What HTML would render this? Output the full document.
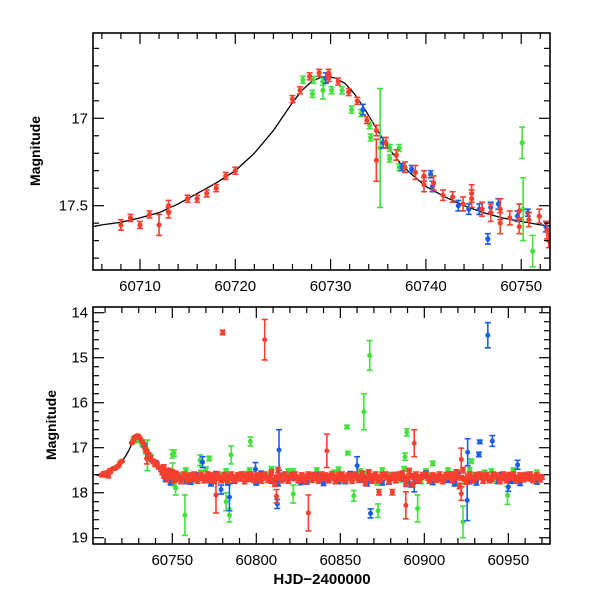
<!DOCTYPE html>
<html><head><meta charset="utf-8"><style>
html,body{margin:0;padding:0;background:#fff;width:600px;height:600px;overflow:hidden}
svg text{font-family:"Liberation Sans",sans-serif;fill:#000}
</style></head><body>
<svg id="chart" width="600" height="600" viewBox="0 0 600 600" xmlns="http://www.w3.org/2000/svg">
<rect width="600" height="600" fill="#fff"/>
<g id="top"></g>
<g id="bot"></g>
<text x="0" y="0" transform="translate(40,151) rotate(-90)" text-anchor="middle" font-size="14" font-weight="bold">Magnitude</text>
<text x="0" y="0" transform="translate(56,425) rotate(-90)" text-anchor="middle" font-size="14" font-weight="bold">Magnitude</text>
<text x="322" y="584" text-anchor="middle" font-size="15" font-family="Liberation Mono" font-weight="bold">HJD−2400000</text>
</svg>
<script>
// ---- data ----
const modelDays=[60705,60706,60708,60710,60712,60714,60716,60718,60720,60722,60724,60725,60726,60727,60728,60729,60729.7,60730.5,60731.5,60732.5,60733.5,60734.5,60735.5,60736.5,60737.5,60738.5,60740,60742,60744,60746,60748,60750,60752,60754,60760,60780,60970];
const modelMags=[17.62,17.61,17.595,17.57,17.54,17.49,17.43,17.37,17.3,17.2,17.07,16.99,16.91,16.84,16.79,16.765,16.76,16.77,16.8,16.86,16.94,17.03,17.12,17.2,17.27,17.32,17.39,17.45,17.5,17.54,17.57,17.59,17.61,17.62,17.64,17.66,17.66];

const redDays=[60708,60709,60710,60711,60712,60713,60713,60715,60716,60717,60718,60719,60720,60726,60726.8,60727.8,60728.8,60729.8,60729.8,60730.8,60731.9,60732.8,60733.8,60734.8,60734.8,60735.8,60736.9,60737.8,60738.9,60739.8,60739.8,60740.8,60741.8,60742.8,60743.9,60744.8,60744.8,60745.9,60746.8,60747.8,60747.8,60748.8,60749.8,60749.8,60750.8,60751.9,60752.7,60752.9];
const redMags=[17.61,17.57,17.61,17.55,17.61,17.5,17.54,17.46,17.46,17.43,17.4,17.33,17.3,16.89,16.84,16.76,16.74,16.74,16.77,16.79,16.85,16.9,17.01,17.07,17.24,17.14,17.21,17.28,17.31,17.33,17.38,17.37,17.44,17.45,17.49,17.46,17.43,17.52,17.54,17.52,17.6,17.57,17.53,17.62,17.58,17.56,17.64,17.7];
const redErrs=[0.03,0.02,0.02,0.02,0.06,0.03,0.03,0.02,0.02,0.02,0.02,0.02,0.02,0.02,0.02,0.02,0.02,0.02,0.02,0.02,0.02,0.02,0.02,0.03,0.12,0.03,0.03,0.03,0.04,0.03,0.04,0.04,0.03,0.03,0.04,0.05,0.05,0.04,0.05,0.06,0.06,0.04,0.04,0.04,0.04,0.04,0.05,0.04];

const greenDays=[60727.1,60728.2,60728.1,60729.2,60729.2,60730.1,60731.2,60732.2,60733.2,60734.1,60734.2,60735.2,60736.2,60736.2,60737.2,60737.2,60750.1,60750.2,60751.2];
const greenMags=[16.78,16.78,16.86,16.79,16.84,16.84,16.84,16.95,16.97,17.04,17.11,17.17,17.17,17.23,17.17,17.28,17.14,17.52,17.76];
const greenErrs=[0.02,0.02,0.02,0.02,0.05,0.02,0.02,0.02,0.02,0.02,0.02,0.34,0.02,0.02,0.02,0.02,0.09,0.18,0.09];

const blueDays=[60729.5,60733.4,60735.5,60737.5,60738.5,60740.5,60740.7,60743.4,60744.5,60745.6,60746.5,60746.8,60747.6,60749.6,60750.7,60752.6];
const blueMags=[16.77,16.95,17.14,17.28,17.29,17.32,17.39,17.5,17.52,17.52,17.69,17.51,17.49,17.56,17.54,17.62];
const blueErrs=[0.03,0.03,0.03,0.02,0.02,0.02,0.03,0.03,0.03,0.03,0.03,0.03,0.03,0.03,0.02,0.03];

// bottom-panel additional data
const bandRedDays=[60744,60746,60748,60750,60752,60754,60756,60758,60760,60762,60764,60766,60768,60770,60772,60774,60776,60778,60780,60782,60784,60786,60788,60790,60792,60794,60796,60798,60800,60802,60804,60806,60808,60810,60812,60814,60816,60818,60820,60822,60824,60826,60828,60830,60832,60834,60836,60838,60840,60842,60844,60846,60848,60850,60852,60854,60856,60858,60860,60862,60864,60866,60868,60870,60872,60874,60876,60878,60880,60882,60884,60886,60888,60890,60892,60894,60896,60898,60900,60902,60904,60906,60908,60910,60912,60914,60916,60918,60920,60922,60924,60926,60928,60930,60932,60934,60936,60938,60940,60942,60944,60946,60948,60950,60952,60954,60956,60958,60960,60962,60964,60966,60968,60970];
const bandRedMags=[17.55,17.6,17.62,17.64,17.66,17.7,17.66,17.63,17.67,17.7,17.65,17.68,17.64,17.66,17.72,17.65,17.62,17.68,17.66,17.7,17.64,17.67,17.65,17.69,17.63,17.66,17.7,17.64,17.68,17.66,17.62,17.67,17.65,17.71,17.66,17.64,17.69,17.65,17.67,17.63,17.68,17.66,17.7,17.64,17.66,17.62,17.68,17.65,17.69,17.66,17.63,17.67,17.65,17.7,17.64,17.68,17.66,17.62,17.67,17.65,17.69,17.66,17.63,17.68,17.65,17.7,17.64,17.66,17.68,17.65,17.62,17.67,17.66,17.69,17.64,17.66,17.7,17.65,17.63,17.67,17.66,17.68,17.64,17.7,17.65,17.66,17.62,17.68,17.65,17.67,17.69,17.64,17.66,17.68,17.65,17.63,17.67,17.66,17.7,17.64,17.66,17.68,17.65,17.62,17.67,17.66,17.69,17.64,17.66,17.68,17.65,17.67,17.66,17.65];
const bandRed2Days=[60745,60747,60749,60751,60753,60755,60757,60759,60761,60763,60765,60767,60769,60771,60773,60775,60777,60779,60781,60783,60785,60787,60789,60791,60793,60795,60797,60799,60801,60803,60805,60807,60809,60811,60813,60815,60817,60819,60821,60823,60825,60827,60829,60831,60833,60835,60837,60839,60841,60843,60845,60847,60849,60851,60853,60855,60857,60859,60861,60863,60865,60867,60869,60871,60873,60875,60877,60879,60881,60883,60885,60887,60889,60891,60893,60895,60897,60899,60901,60903,60905,60907,60909,60911,60913,60915,60917,60919,60921,60923,60925,60927,60929,60931,60933,60935,60937,60939,60941,60943,60945,60947,60949,60951,60953,60955,60957,60959,60961,60963,60965,60967,60969];
const bandRed2Mags=[17.62,17.7,17.6,17.72,17.61,17.74,17.6,17.72,17.62,17.6,17.73,17.61,17.72,17.6,17.62,17.74,17.6,17.72,17.61,17.73,17.6,17.71,17.62,17.6,17.74,17.61,17.6,17.72,17.62,17.73,17.6,17.71,17.55,17.8,17.5,17.72,17.6,17.73,17.61,17.6,17.72,17.62,17.74,17.6,17.71,17.61,17.73,17.6,17.62,17.72,17.6,17.74,17.61,17.6,17.72,17.62,17.73,17.6,17.71,17.58,17.78,17.55,17.73,17.6,17.72,17.61,17.6,17.74,17.62,17.72,17.6,17.58,17.8,17.52,17.82,17.6,17.72,17.61,17.6,17.73,17.62,17.71,17.6,17.74,17.61,17.6,17.72,17.55,17.85,17.5,17.75,17.6,17.72,17.62,17.6,17.73,17.61,17.72,17.6,17.62,17.74,17.6,17.72,17.61,17.6,17.73,17.62,17.7,17.61,17.6,17.72,17.62,17.7];
const bandBlueDays=[60746,60752,60758,60764,60770,60776,60783,60790,60797,60803,60809,60816,60823,60830,60836,60843,60849,60856,60862,60869,60875,60882,60888,60895,60901,60908,60914,60920,60927,60933,60939,60946,60952,60958,60964,60969,60749,60761,60773,60787,60800,60813,60827,60840,60853,60866,60879,60892,60905,60918,60931,60944,60957,60967];
const bandBlueMags=[17.7,17.62,17.75,17.6,17.72,17.58,17.78,17.63,17.7,17.57,17.74,17.62,17.68,17.76,17.6,17.7,17.75,17.58,17.72,17.64,17.78,17.6,17.7,17.74,17.57,17.68,17.72,17.6,17.75,17.63,17.7,17.6,17.74,17.62,17.7,17.66,17.78,17.76,17.8,17.74,17.78,17.8,17.76,17.79,17.75,17.8,17.76,17.82,17.77,17.8,17.78,17.75,17.79,17.76];
const bandGreenDays=[60749,60755,60761,60767,60773,60779,60786,60793,60800,60806,60813,60819,60826,60833,60839,60846,60852,60859,60865,60872,60878,60885,60891,60898,60904,60911,60917,60924,60930,60936,60943,60949,60955,60961,60967,60758,60770,60782,60796,60809,60822,60836,60849,60862,60875,60888,60901,60914,60927,60940,60953];
const bandGreenMags=[17.75,17.6,17.72,17.55,17.78,17.62,17.72,17.58,17.76,17.6,17.7,17.52,17.78,17.6,17.74,17.55,17.72,17.62,17.58,17.78,17.6,17.72,17.55,17.75,17.62,17.7,17.58,17.76,17.6,17.55,17.74,17.62,17.7,17.6,17.55,17.5,17.48,17.52,17.5,17.47,17.52,17.5,17.48,17.52,17.5,17.47,17.52,17.5,17.49,17.52,17.5];

const outRedDays=[60780,60805,60842,60831,60776,60812,60894,60889,60873,60881,60922,60922];
const outRedMags=[14.44,14.6,17.07,18.45,18.05,18.08,16.9,18.28,17.99,17.99,17.26,18.02];
const outRedErrs=[0.05,0.45,0.37,0.4,0.4,0.15,0.3,0.3,0.06,0.06,0.25,0.15];
const outGreenDays=[60867.5,60864,60854,60889.6,60796.5,60751,60757.5,60752,60772,60766.5,60785,60782,60784,60822,60872.5,60858,60896,60923,60949.5,60888.5,60905,60928,60854.5];
const outGreenMags=[14.95,16.2,16.54,16.66,16.86,17.12,18.5,17.9,17.24,17.28,17.16,18.2,18.5,18.03,18.4,18.07,18.35,18.65,18.06,17.2,17.35,17.3,17.12];
const outGreenErrs=[0.33,0.4,0.04,0.08,0.1,0.07,0.45,0.15,0.05,0.12,0.2,0.2,0.15,0.2,0.15,0.12,0.3,0.35,0.2,0.08,0.05,0.05,0.04];
const outBlueDays=[60937.8,60940.5,60813.5,60933,60932.5,60925.5,60868,60860,60784,60812.5,60768,60779,60799.5,60950,60955.5,60894,60925.8];
const outBlueMags=[14.5,16.85,17.05,16.87,17.15,18.17,18.46,17.4,18.1,18.25,17.32,17.93,17.48,17.87,17.38,17.78,17.1];
const outBlueErrs=[0.28,0.12,0.45,0.04,0.05,0.45,0.1,0.2,0.3,0.1,0.12,0.1,0.15,0.1,0.1,0.2,0.3];

const topXTicks=[60710,60720,60730,60740,60750];
const topYTicks=[17,17.5];
const botXTicks=[60750,60800,60850,60900,60950];
const botYTicks=[14,15,16,17,18,19];

const RED='#f5402f',GREEN='#44e03c',BLUE='#1a5de8';
const NS='http://www.w3.org/2000/svg';
function mk(tag,attrs,parent){const e=document.createElementNS(NS,tag);for(const k in attrs)e.setAttribute(k,attrs[k]);parent.appendChild(e);return e;}

function makeAxes(box,xd,yd){
  return {x:d=>box.l+(d-xd[0])/(xd[1]-xd[0])*(box.r-box.l),
          y:m=>box.t+(m-yd[0])/(yd[1]-yd[0])*(box.b-box.t)};
}

function drawModel(g,ax,box){
  const cp=mk('clipPath',{id:'clip'+g.id},g);
  mk('rect',{x:box.l,y:box.t,width:box.r-box.l,height:box.b-box.t},cp);
  let d='';
  for(let i=0;i<modelDays.length;i++){d+=(i?'L':'M')+ax.x(modelDays[i]).toFixed(2)+','+ax.y(modelMags[i]).toFixed(2);}
  const p=mk('path',{d:d,fill:'none',stroke:'#000','stroke-width':1.3,'stroke-linejoin':'round','clip-path':'url(#clip'+g.id+')'},g);
  
  
}

function drawSeries(g,ax,box,days,mags,errs,color,name,r,defErr){
  const sg=mk('g',{'clip-path':'url(#clip'+g.id+')'},g);
  
  
  for(let i=0;i<days.length;i++){
    const x=ax.x(days[i]),y=ax.y(mags[i]);
    const e=errs?errs[i]:(defErr||0.02);
    const y1=ax.y(mags[i]-e),y2=ax.y(mags[i]+e);
    const pt=mk('g',{},sg);
    
    
    mk('line',{x1:x,x2:x,y1:y1,y2:y2,stroke:color,'stroke-width':1.6},pt);
    mk('line',{x1:x-3,x2:x+3,y1:y1,y2:y1,stroke:color,'stroke-width':1.6},pt);
    mk('line',{x1:x-3,x2:x+3,y1:y2,y2:y2,stroke:color,'stroke-width':1.6},pt);
    mk('circle',{cx:x,cy:y,r:r,fill:color},pt);
  }
}

function drawFrame(g,ax,box,xd,yd,xMaj,xMin,yMaj,yMin,xticks,yticks,fmtY){
  mk('rect',{x:box.l,y:box.t,width:box.r-box.l,height:box.b-box.t,fill:'none',stroke:'#000','stroke-width':1.6},g);
  const tg=mk('g',{stroke:'#000','stroke-width':1.2},g);
  
  
  const eps=1e-6;
  for(let v=Math.ceil(xd[0]/xMin)*xMin;v<=xd[1];v+=xMin){
    const x=ax.x(v);const maj=Math.abs(v/xMaj-Math.round(v/xMaj))<eps;const L=maj?11:6;
    mk('line',{x1:x,x2:x,y1:box.b,y2:box.b-L},tg);mk('line',{x1:x,x2:x,y1:box.t,y2:box.t+L},tg);
  }
  for(let k=Math.ceil(yd[0]/yMin-eps);k*yMin<=yd[1]+eps;k++){
    const v=k*yMin;const y=ax.y(v);const maj=Math.abs(v/yMaj-Math.round(v/yMaj))<1e-4;const L=maj?11:6;
    mk('line',{x1:box.l,x2:box.l+L,y1:y,y2:y},tg);mk('line',{x1:box.r,x2:box.r-L,y1:y,y2:y},tg);
  }
  xticks.forEach(v=>{const t=mk('text',{x:ax.x(v),y:box.b+21,'text-anchor':'middle','font-size':15},g);t.textContent=v;
    });
  yticks.forEach(v=>{const t=mk('text',{x:box.l-5,y:ax.y(v)+5,'text-anchor':'end','font-size':15},g);t.textContent=fmtY(v);
    });
}

// top panel
(function(){
  const g=document.getElementById('top');
  const box={l:93,r:550,t:33,b:270};
  const xd=[60705.07,60753.02],yd=[16.512,17.868];
  const ax=makeAxes(box,xd,yd);
  drawModel(g,ax,box);
  drawSeries(g,ax,box,greenDays,greenMags,greenErrs,GREEN,'green-series',2.6);
  drawSeries(g,ax,box,blueDays,blueMags,blueErrs,BLUE,'blue-series',2.6);
  drawSeries(g,ax,box,redDays,redMags,redErrs,RED,'red-series',2.6);
  drawFrame(g,ax,box,xd,yd,10,2,0.5,0.1,topXTicks,topYTicks,v=>String(v));
})();

// bottom panel
(function(){
  const g=document.getElementById('bot');
  const box={l:93,r:550,t:307,b:544};
  const xd=[60702.8,60974.8],yd=[13.873,19.14];
  const ax=makeAxes(box,xd,yd);
  drawModel(g,ax,box);
  drawSeries(g,ax,box,bandGreenDays,bandGreenMags,null,GREEN,'green-band',2.5,0.05);
  drawSeries(g,ax,box,outGreenDays,outGreenMags,outGreenErrs,GREEN,'green-outliers',2.5);
  drawSeries(g,ax,box,bandBlueDays,bandBlueMags,null,BLUE,'blue-band',2.5,0.05);
  drawSeries(g,ax,box,outBlueDays,outBlueMags,outBlueErrs,BLUE,'blue-outliers',2.5);
  drawSeries(g,ax,box,greenDays,greenMags,greenErrs,GREEN,'green-series',2.5);
  drawSeries(g,ax,box,blueDays,blueMags,blueErrs,BLUE,'blue-series',2.5);
  drawSeries(g,ax,box,redDays,redMags,redErrs,RED,'red-series',2.7);
  drawSeries(g,ax,box,bandRed2Days,bandRed2Mags,null,RED,'red-band-b',2.7,0.06);
  drawSeries(g,ax,box,bandRedDays,bandRedMags,null,RED,'red-band',2.7,0.05);
  drawSeries(g,ax,box,outRedDays,outRedMags,outRedErrs,RED,'red-outliers',2.5);
  drawFrame(g,ax,box,xd,yd,50,10,1,0.2,botXTicks,botYTicks,v=>String(v));
})();
</script>
</body></html>
